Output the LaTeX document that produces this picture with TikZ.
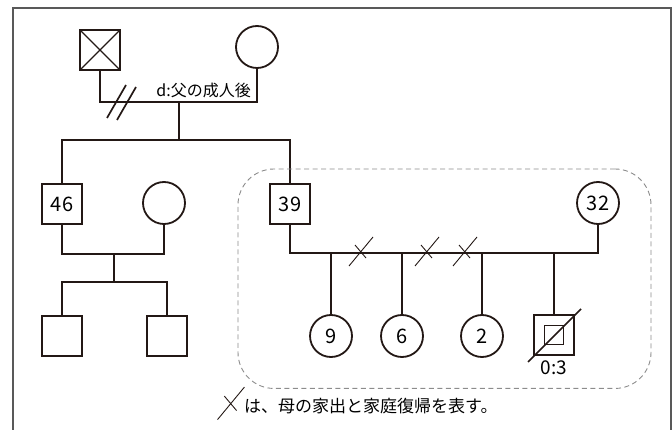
\documentclass[tikz,border=0pt]{standalone}
\usepackage{fontspec}
\setmainfont{Noto Sans CJK JP}
\usetikzlibrary{positioning}
\usetikzlibrary{fit}
\definecolor{ink}{HTML}{231815}

\tikzset{
	outmark/.pic={\draw[ink, line width=0.9pt] (-12,13) -- (12,-16) (-6,-8) -- (5,5);}
}

\begin{document}
\begin{tikzpicture}[x=1pt, y=-1pt,
		line join=miter,
		kin/.style={draw=ink, line width=2.9pt},
		male/.style={draw=ink, line width=1.8pt, rectangle, minimum size=40pt,
			inner sep=0pt, outer sep=0pt, font=\fontsize{20}{20}\selectfont},
		female/.style={draw=ink, line width=1.8pt, circle, minimum size=42pt,
			inner sep=0pt, outer sep=0pt, font=\fontsize{20}{20}\selectfont}]
		\useasboundingbox (0,0) rectangle (672,430);
		\draw[line width=1.2pt, black!65] (13,430) |- (671,8) -- (671,430);

		% grandparents
		\node [male] (gf) at (100,50) {};
		\node [female] (gm) at (257,47) {};
		\draw[ink, line width=1.2pt] (gf.north west) -- (gf.south east)
			(gf.north east) -- (gf.south west);
		% children of the grandparents
		\node [male] (u46) at (62,204) {46};
		\node [female] (w46) at (164,203) {};
		\node [male] (fa) at (290,204) {39};
		\node [female] (mo) at (598,203) {32};
		% grandchildren
		\node [male] (c1) at (62,336) {};
		\node [male] (c2) at (167,336) {};
		\node [female] (d9) at (331,336) {9};
		\node [female] (d6) at (402,336) {6};
		\node [female] (d2) at (482,336) {2};
		\node [male] (sb) at (554,335) {};
		\node [draw=ink, line width=1.6pt, minimum size=19pt, inner sep=0pt] (sbin) at (sb) {};
		\node [below=6pt of sb, inner sep=0pt, font=\fontsize{19}{19}\selectfont] (sbage) {0:3};
		\draw[ink, line width=1.5pt] ([shift={(-26,27)}]sb.center) -- ([shift={(27,-26)}]sb.center);

		\coordinate (m0) at (179,102);
		\coordinate (s0) at (179,140);
		\coordinate (m1) at (114,254);
		\coordinate (s1) at (114,282);
		\coordinate (m2) at (331,253);

		\draw[kin] (gf.south) |- (m0) -| (gm.south);
		\draw[kin] (m0) -- (s0);
		\draw[kin] (u46.north) |- (s0) -| (fa.north);
		\draw[kin] (u46.south) |- (m1) -| (w46.south);
		\draw[kin] (m1) -- (s1);
		\draw[kin] (c1.north) |- (s1) -| (c2.north);
		\draw[kin] (fa.south) |- (m2) -| (mo.south);
		\foreach \k in {d9,d6,d2,sb}
			\draw[kin] (\k.north) -- (\k.north |- m2);

		% divorce
		\draw[ink, line width=1.7pt] (107,118) -- (126,85) (117,120) -- (136,87);
		\node [anchor=east, inner sep=0pt, font=\fontsize{16}{16}\selectfont] (dnote) at (251,90) {d:父の成人後};

		% leaving home
		\foreach \x in {361,427,465}
			\pic at (\x,253) {outmark};

		\node[draw=black!45, line width=0.9pt, dash pattern=on 5pt off 3.5pt,
			rounded corners=36pt,
			inner xsep=32pt, inner ysep=13pt,
			fit=(fa) (mo) (d9) (sbage)] (home) {};

		\pic[scale=1.12] at (231,405) {outmark};
		\node [anchor=west, inner sep=0pt, font=\fontsize{17}{17}\selectfont] (legend) at (244,406) {は、母の家出と家庭復帰を表す。};
\end{tikzpicture}
\end{document}
